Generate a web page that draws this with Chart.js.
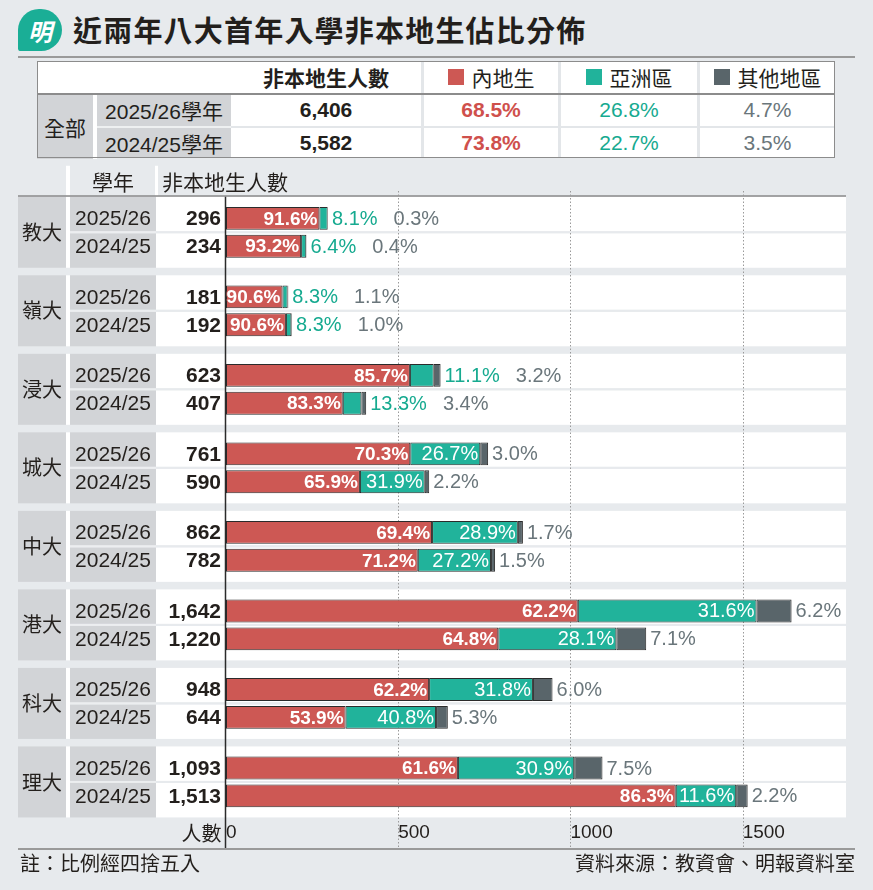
<!DOCTYPE html>
<html lang="zh-Hant">
<head>
<meta charset="utf-8">
<title>近兩年八大首年入學非本地生佔比分佈</title>
<script src="https://cdn.jsdelivr.net/npm/chart.js@4.4.1/dist/chart.umd.min.js"></script>
<style>
  html, body { margin: 0; padding: 0; }
  body {
    width: 873px; height: 890px; position: relative; overflow: hidden;
    background: #e7eaed; color: #231f1c;
    font-family: "Liberation Sans", "Noto Sans CJK TC", sans-serif;
  }
  .logo {
    position: absolute; left: 18px; top: 9px; width: 44px; height: 42px;
    background: #1aae96; border-radius: 22px 22px 22px 3px;
    color: #fff; font: bold 24px "Noto Sans CJK TC"; font-style: italic;
    display: flex; align-items: center; justify-content: center;
  }
  .title {
    position: absolute; left: 73px; top: 7px; margin: 0;
    font: bold 29px "Noto Sans CJK TC"; letter-spacing: 1.2px; line-height: 44px;
  }
  .rule { position: absolute; left: 18px; width: 837px; height: 1.5px; background: #9a9a9a; }
  .cell {
    position: absolute; display: flex; align-items: center; justify-content: center;
    font-size: 21px; white-space: nowrap;
  }
  .sq { display: inline-block; width: 16px; height: 16px; margin-right: 8px; }
  #chartWrap { position: absolute; left: 0; top: 160px; width: 873px; height: 690px; }
  .foot { position: absolute; top: 849px; font: 20px "Noto Sans CJK TC"; line-height: 28px; }
</style>
</head>
<body>
<div class="logo">明</div>
<h1 class="title">近兩年八大首年入學非本地生佔比分佈</h1>
<div class="rule" style="top:56px"></div>
<div id="summary"></div>
<div id="chartWrap"><canvas id="share-chart" width="873" height="690"></canvas></div>
<div class="rule" style="top:848px; z-index:2"></div>
<div class="foot" style="left:20px">註：比例經四捨五入</div>
<div class="foot" style="right:18px">資料來源：教資會、明報資料室</div>

<script>
// ---- data -------------------------------------------------------------
const universities = ['教大', '嶺大', '浸大', '城大', '中大', '港大', '科大', '理大'];
const yearLabels = ['2025/26', '2024/25'];

const counts2526 = [296, 181, 623, 761, 862, 1642, 948, 1093];
const mainland2526 = [91.6, 90.6, 85.7, 70.3, 69.4, 62.2, 62.2, 61.6];
const asia2526 = [8.1, 8.3, 11.1, 26.7, 28.9, 31.6, 31.8, 30.9];
const other2526 = [0.3, 1.1, 3.2, 3.0, 1.7, 6.2, 6.0, 7.5];

const counts2425 = [234, 192, 407, 590, 782, 1220, 644, 1513];
const mainland2425 = [93.2, 90.6, 83.3, 65.9, 71.2, 64.8, 53.9, 86.3];
const asia2425 = [6.4, 8.3, 13.3, 31.9, 27.2, 28.1, 40.8, 11.6];
const other2425 = [0.4, 1.0, 3.4, 2.2, 1.5, 7.1, 5.3, 2.2];

const xTicks = [0, 500, 1000, 1500];

// overall table
const totalYears = ['2025/26學年', '2024/25學年'];
const totalCounts = [6406, 5582];
const totalMainland = [68.5, 73.8];
const totalAsia = [26.8, 22.7];
const totalOther = [4.7, 3.5];

const seriesNames = ['內地生', '亞洲區', '其他地區'];

// ---- colours ----------------------------------------------------------
const COLORS = {
    red: '#cd5854',
    teal: '#21b39b',
    grey: '#59656a',
    redText: '#cf504c',
    tealText: '#16aa90',
    greyText: '#6a767b',
    edge: '#2b2b2b',
    cell: '#d2d4d7',
    page: '#e7eaed',
    ink: '#231f1c',
};
const CJK = '"Noto Sans CJK TC", sans-serif';
const LAT = '"Liberation Sans", "Noto Sans CJK TC", sans-serif';

// ---- summary table (HTML) ---------------------------------------------
function buildSummary() {
    const host = document.getElementById('summary');
    const add = (x, y, w, h, bg, html, style = '') => {
        const d = document.createElement('div');
        d.className = 'cell';
        d.style.cssText = `left:${x}px;top:${y}px;width:${w}px;height:${h}px;background:${bg};${style}`;
        d.innerHTML = html;
        host.appendChild(d);
    };
    const pctCols = [[424, 134], [561, 136], [700, 135]];
    const swatch = [COLORS.red, COLORS.teal, COLORS.grey];

    add(37, 61, 798, 97, '#e3e6e9', '');
    // header row
    add(37, 61, 384, 32, '#fff', '');
    add(231, 61, 190, 32, '#fff', '非本地生人數', `font:bold 21px ${CJK}`);
    pctCols.forEach(([x, w], k) => {
        add(x, 61, w, 32, '#fff',
            `<span class="sq" style="background:${swatch[k]}"></span>${seriesNames[k]}`,
            `font:21px ${CJK}`);
    });
    add(37, 93, 798, 1.5, '#8c8c8c', '');
    // body
    add(37, 94.5, 56, 64, COLORS.cell, '全部', `font:21px ${CJK}`);
    add(93, 94.5, 4, 64, '#fff', '');
    const rowsY = [[94.5, 31], [128, 30]];
    rowsY.forEach(([y, h], r) => {
        add(97, y, 134, h, COLORS.cell, totalYears[r], 'font-size:21px');
        add(231, y, 190, h, '#fff', totalCounts[r].toLocaleString('en-US'), 'font-weight:bold');
        add(pctCols[0][0], y, pctCols[0][1], h, '#fff', totalMainland[r].toFixed(1) + '%',
            `font-weight:bold;color:${COLORS.redText}`);
        add(pctCols[1][0], y, pctCols[1][1], h, '#fff', totalAsia[r].toFixed(1) + '%',
            `color:${COLORS.tealText}`);
        add(pctCols[2][0], y, pctCols[2][1], h, '#fff', totalOther[r].toFixed(1) + '%',
            `color:${COLORS.greyText}`);
    });
    add(97, 125.5, 134, 2.5, '#eef0f1', '');
    add(37, 61, 798, 97, 'transparent', '', 'box-sizing:border-box;border:1.5px solid #8c8c8c');
}
buildSummary();

// ---- chart ------------------------------------------------------------
const seg = (counts, pct) => counts.map((c, i) => c * pct[i] / 100);

const years = [
    { counts: counts2526, pct: [mainland2526, asia2526, other2526] },
    { counts: counts2425, pct: [mainland2425, asia2425, other2425] },
];

const datasets = [];
years.forEach((yr, s) => {
    const fills = [COLORS.red, COLORS.teal, COLORS.grey];
    yr.pct.forEach((p, k) => {
        datasets.push({
            label: seriesNames[k] + ' ' + yearLabels[s],
            data: seg(yr.counts, p),
            stack: 'y' + s,
            backgroundColor: fills[k],
            borderColor: COLORS.edge,
            borderWidth: 1,
            borderSkipped: false,
            categoryPercentage: 0.71,
            barPercentage: 0.82,
        });
    });
});

const GROUP_HALF = 35.5;

const sheetPlugin = {
    id: 'sheet',
    beforeDatasetsDraw(chart) {
        const { ctx, chartArea, scales: { x, y } } = chart;
        ctx.save();
        const top0 = y.getPixelForValue(0) - GROUP_HALF;

        // header row
        ctx.fillStyle = '#fff';
        ctx.fillRect(66, top0 - 31, 4, 30);
        ctx.fillRect(155, top0 - 31, 3, 30);
        ctx.fillStyle = COLORS.ink;
        ctx.font = `21px ${CJK}`;
        ctx.textBaseline = 'middle';
        ctx.textAlign = 'center';
        ctx.fillText('學年', 113, top0 - 15);
        ctx.textAlign = 'left';
        ctx.fillText('非本地生人數', 162, top0 - 15);

        // group blocks
        universities.forEach((name, i) => {
            const c = y.getPixelForValue(i);
            const top = c - GROUP_HALF;
            const rowH = GROUP_HALF - 1;
            ctx.fillStyle = COLORS.cell;
            ctx.fillRect(18, top, 48, GROUP_HALF * 2);
            ctx.fillRect(70, top, 86, rowH);
            ctx.fillRect(70, c + 1, 86, rowH);
            ctx.fillStyle = '#fff';
            ctx.fillRect(66, top, 4, GROUP_HALF * 2);
            ctx.fillRect(156, top, chartArea.right - 156, rowH);
            ctx.fillRect(156, c + 1, chartArea.right - 156, rowH);
            ctx.fillStyle = '#eceef0';
            ctx.fillRect(70, c - 1, 86, 2);
            ctx.fillStyle = COLORS.page;
            ctx.fillRect(156, c - 1, chartArea.right - 156, 2);

            ctx.fillStyle = COLORS.ink;
            ctx.textAlign = 'center';
            ctx.font = `20px ${CJK}`;
            ctx.fillText(name, 42, c);

            years.forEach((yr, s) => {
                const by = chart.getDatasetMeta(s * 3).data[i].y;
                ctx.textAlign = 'center';
                ctx.font = `21px ${LAT}`;
                ctx.fillText(yearLabels[s], 113, by + 1);
                ctx.textAlign = 'right';
                ctx.font = `bold 21px ${LAT}`;
                ctx.fillText(yr.counts[i].toLocaleString('en-US'), 221, by + 1);
            });
        });

        // header rule
        ctx.strokeStyle = '#8a8a8a';
        ctx.lineWidth = 1.5;
        ctx.beginPath();
        ctx.moveTo(18, top0 - 0.75);
        ctx.lineTo(chartArea.right, top0 - 0.75);
        ctx.stroke();

        // dotted grid
        ctx.strokeStyle = '#9a9a9a';
        ctx.lineWidth = 1;
        ctx.setLineDash([1.5, 2]);
        xTicks.slice(1).forEach(v => {
            const px = Math.round(x.getPixelForValue(v)) + 0.5;
            ctx.beginPath();
            ctx.moveTo(px, chartArea.top - 2);
            ctx.lineTo(px, chartArea.bottom + 26);
            ctx.stroke();
        });
        ctx.restore();
    },
    afterDatasetsDraw(chart) {
        const { ctx, chartArea, scales: { x, y } } = chart;
        ctx.save();
        ctx.textBaseline = 'middle';
        ctx.lineJoin = 'round';

        years.forEach((yr, s) => {
            const [mRed, mTeal, mGrey] = [0, 1, 2].map(k => chart.getDatasetMeta(s * 3 + k));
            yr.counts.forEach((cnt, i) => {
                const red = mRed.data[i], teal = mTeal.data[i], grey = mGrey.data[i];
                const by = red.y + 1;

                // mainland: inside, bold white
                const tRed = yr.pct[0][i].toFixed(1) + '%';
                ctx.font = `bold 19px ${LAT}`;
                ctx.textAlign = 'right';
                ctx.strokeStyle = COLORS.red;
                ctx.lineWidth = 2;
                ctx.strokeText(tRed, red.x - 2, by);
                ctx.fillStyle = '#fff';
                ctx.fillText(tRed, red.x - 2, by);

                // asia: inside if it fits, otherwise after the bar
                const tTeal = yr.pct[1][i].toFixed(1) + '%';
                ctx.font = `20px ${LAT}`;
                const tw = ctx.measureText(tTeal).width;
                let nextX = grey.x + 4;
                if (teal.x - teal.base >= tw + 2) {
                    ctx.textAlign = 'right';
                    ctx.strokeStyle = COLORS.teal;
                    ctx.lineWidth = 2.5;
                    ctx.strokeText(tTeal, teal.x - 2, by);
                    ctx.fillStyle = '#fff';
                    ctx.fillText(tTeal, teal.x - 2, by);
                } else {
                    ctx.textAlign = 'left';
                    ctx.fillStyle = COLORS.tealText;
                    ctx.fillText(tTeal, grey.x + 4, by);
                    nextX = grey.x + 4 + tw + 16;
                }

                // other regions: after the bar
                ctx.textAlign = 'left';
                ctx.fillStyle = COLORS.greyText;
                ctx.fillText(yr.pct[2][i].toFixed(1) + '%', nextX, by);
            });
        });

        // zero axis
        const x0 = Math.round(x.getPixelForValue(0)) - 0.5;
        ctx.strokeStyle = COLORS.edge;
        ctx.lineWidth = 1.5;
        ctx.beginPath();
        ctx.moveTo(x0, y.getPixelForValue(0) - GROUP_HALF);
        ctx.lineTo(x0, chartArea.bottom + 28);
        ctx.stroke();

        // axis unit
        ctx.fillStyle = COLORS.ink;
        ctx.font = `20px ${CJK}`;
        ctx.textAlign = 'right';
        ctx.fillText('人數', x0 - 4, chartArea.bottom + 12);
        ctx.restore();
    },
};

new Chart(document.getElementById('share-chart'), {
    type: 'bar',
    data: { labels: universities, datasets },
    options: {
        indexAxis: 'y',
        responsive: false,
        animation: false,
        layout: { padding: { left: 226, right: 27, top: 33, bottom: 6 } },
        scales: {
            x: {
                stacked: true,
                min: 0,
                max: 1800,
                afterBuildTicks: scale => { scale.ticks = xTicks.map(v => ({ value: v })); },
                grid: { display: false, drawTicks: false },
                border: { display: false },
                ticks: {
                    align: 'start',
                    padding: 0,
                    color: COLORS.ink,
                    font: { size: 19, family: LAT },
                    callback: v => String(v),
                },
            },
            y: { display: false },
        },
        plugins: {
            legend: { display: false },
            tooltip: { enabled: false },
        },
    },
    plugins: [sheetPlugin],
});
</script>
</body>
</html>
